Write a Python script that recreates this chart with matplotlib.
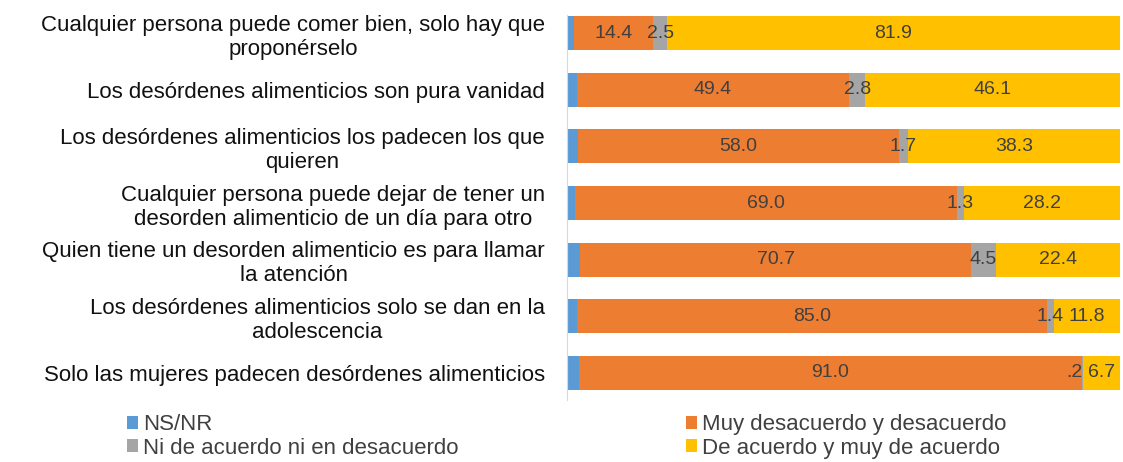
import matplotlib.pyplot as plt
import numpy as np

plt.rcParams["font.family"] = ["Liberation Sans", "DejaVu Sans"]

categories = [
    "Cualquier persona puede comer bien, solo hay que\nproponérselo",
    "Los desórdenes alimenticios son pura vanidad",
    "Los desórdenes alimenticios los padecen los que\nquieren",
    "Cualquier persona puede dejar de tener un\ndesorden alimenticio de un día para otro",
    "Quien tiene un desorden alimenticio es para llamar\nla atención",
    "Los desórdenes alimenticios solo se dan en la\nadolescencia",
    "Solo las mujeres padecen desórdenes alimenticios",
]
ns_nr = [1.2, 1.7, 2.0, 1.5, 2.4, 1.8, 2.1]
desacuerdo = [14.4, 49.4, 58.0, 69.0, 70.7, 85.0, 91.0]
ni_ni = [2.5, 2.8, 1.7, 1.3, 4.5, 1.4, 0.2]
acuerdo = [81.9, 46.1, 38.3, 28.2, 22.4, 11.8, 6.7]

series = [
    ("NS/NR", ns_nr, "#5B9BD5", False),
    ("Muy desacuerdo y desacuerdo", desacuerdo, "#ED7D31", True),
    ("Ni de acuerdo ni en desacuerdo", ni_ni, "#A5A5A5", True),
    ("De acuerdo y muy de acuerdo", acuerdo, "#FFC000", True),
]

fig = plt.figure(figsize=(11.23, 4.62), dpi=100)
ax = fig.add_axes([0.505, 0.134, 0.492, 0.8335])

y = np.arange(len(categories))
left = np.zeros(len(categories))
handles = []
for name, vals, color, show in series:
    vals = np.array(vals)
    bars = ax.barh(y, vals, left=left, height=0.6, color=color, label=name)
    handles.append(bars)
    if show:
        for start, yi, v in zip(left, y, vals):
            txt = f"{v:.1f}"
            if txt.startswith("0"):
                txt = txt[1:]
            if v < 1:
                # tiny segment: keep the label just left of the next one
                ax.text(start + v, yi, txt, ha="right", va="center",
                        fontsize=14, color="#404040")
            else:
                ax.text(start + v / 2, yi, txt, ha="center", va="center",
                        fontsize=14, color="#404040")
    left += vals

ax.set_xlim(0, 100)
ax.set_ylim(6.48, -0.32)
ax.set_yticks(y)
ax.set_yticklabels(categories, fontsize=16, color="#111111", multialignment="center")
ax.tick_params(axis="y", length=0, pad=16)
ax.set_xticks([])
for s in ["top", "right", "bottom"]:
    ax.spines[s].set_visible(False)
ax.spines["left"].set_color("#D9D9D9")

# row-major order like the original legend
order = [0, 2, 1, 3]
fig.legend(handles=[handles[i] for i in order], loc="lower left",
           bbox_to_anchor=(0.095, -0.036), ncol=2,
           frameon=False, fontsize=16, handlelength=0.5, handleheight=0.5,
           handletextpad=0.25, columnspacing=10.2, labelspacing=0.1,
           labelcolor="#404040")

fig.savefig("out.png", dpi=100)
